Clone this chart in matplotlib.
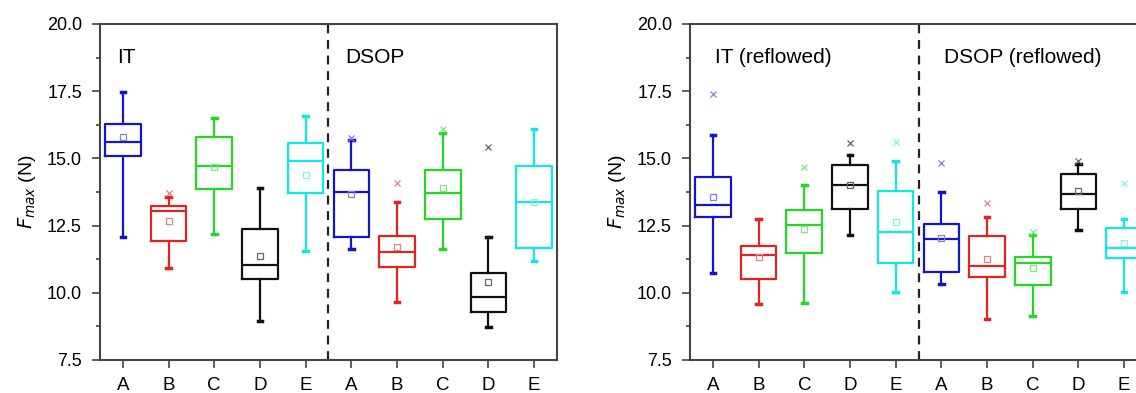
import matplotlib.pyplot as plt
from matplotlib.ticker import MultipleLocator

plt.rcParams['font.family'] = ['Liberation Sans', 'DejaVu Sans']

categories = ["A", "B", "C", "D", "E", "A", "B", "C", "D", "E"]
colors = ["#1515c8", "#e02424", "#22d822", "#111111", "#10e8e8"]
mean_colors = ["#8080e0", "#e88080", "#80e880", "#666666", "#80f0f0"]

# left panel: IT (first 5) then DSOP (last 5)
as_whislo = [12.09, 10.93, 12.18, 8.96, 11.57, 11.62, 9.65, 11.62, 8.74, 11.19]
as_q1 = [15.09, 11.92, 13.85, 10.50, 13.73, 12.09, 10.95, 12.76, 9.29, 11.66]
as_med = [15.62, 13.03, 14.73, 11.03, 14.91, 13.76, 11.52, 13.70, 9.86, 13.38]
as_q3 = [16.28, 13.24, 15.78, 12.36, 15.58, 14.57, 12.12, 14.57, 10.75, 14.73]
as_whishi = [17.48, 13.58, 16.49, 13.89, 16.58, 15.68, 13.39, 15.93, 12.09, 16.11]
as_mean = [15.78, 12.66, 14.68, 11.38, 14.38, 13.66, 11.71, 13.89, 10.41, 13.38]
as_fliers = [[], [13.70], [], [], [], [15.77], [14.10], [16.08], [15.42], []]

# right panel: reflowed
rf_whislo = [10.73, 9.57, 9.61, 12.15, 10.04, 10.32, 9.01, 9.15, 12.34, 10.02]
rf_q1 = [12.83, 10.50, 11.47, 13.11, 11.12, 10.76, 10.58, 10.29, 13.11, 11.31]
rf_med = [13.27, 11.41, 12.52, 14.01, 12.25, 11.99, 11.00, 11.10, 13.68, 11.66]
rf_q3 = [14.32, 11.75, 13.08, 14.74, 13.80, 12.56, 12.11, 11.33, 14.42, 12.40]
rf_whishi = [15.86, 12.75, 14.01, 15.12, 14.91, 13.76, 12.83, 12.15, 14.78, 12.75]
rf_mean = [13.55, 11.32, 12.36, 14.01, 12.62, 12.04, 11.26, 10.93, 13.79, 11.84]
rf_fliers = [[17.41], [], [14.69], [15.58], [15.62], [14.82], [13.35], [12.25], [14.91], [14.10]]


def draw_panel(ax, whislo, q1, med, q3, whishi, mean, fliers, labels, label_x):
    for i in range(len(categories)):
        c = colors[i % 5]
        mc = mean_colors[i % 5]
        stats = [dict(whislo=whislo[i], q1=q1[i], med=med[i], q3=q3[i],
                      whishi=whishi[i], mean=mean[i], fliers=fliers[i])]
        ax.bxp(stats, positions=[i + 1], widths=0.78, showmeans=True,
               showfliers=True, patch_artist=False,
               boxprops=dict(color=c, linewidth=1.6),
               medianprops=dict(color=c, linewidth=1.6),
               whiskerprops=dict(color=c, linewidth=1.6),
               capprops=dict(color=c, linewidth=2.5),
               capwidths=0.1,
               meanprops=dict(marker="s", markersize=4, markerfacecolor="none",
                              markeredgecolor=mc, markeredgewidth=0.9),
               flierprops=dict(marker="x", markersize=5, markeredgecolor=mc,
                               markeredgewidth=0.9))
    ax.axvline(5.5, color="#222222", linestyle=(0, (4, 3)), linewidth=1.6)
    ax.set_xlim(0.5, 10.5)
    ax.set_ylim(7.5, 20.0)
    ax.set_xticks(range(1, 11))
    ax.set_xticklabels(categories, fontsize=13.5)
    ax.yaxis.set_minor_locator(MultipleLocator(1.25))
    ax.set_yticks([7.5, 10.0, 12.5, 15.0, 17.5, 20.0])
    ax.set_yticklabels(["7.5", "10.0", "12.5", "15.0", "17.5", "20.0"], fontsize=13)
    ax.tick_params(axis="both", direction="out", length=6, width=1.2, color="#444444")
    ax.tick_params(axis="y", pad=7)
    ax.tick_params(axis="x", pad=6)
    ax.tick_params(axis="y", which="minor", direction="out", length=3, width=1.2, color="#444444")
    for s in ax.spines.values():
        s.set_color("#444444")
        s.set_linewidth(1.5)
    ax.set_ylabel("$F_{max}$ (N)", fontsize=14, labelpad=6)
    ax.text(label_x[0], 0.9, labels[0], transform=ax.transAxes, fontsize=15, va="center")
    ax.text(label_x[1], 0.9, labels[1], transform=ax.transAxes, fontsize=15, va="center")


fig = plt.figure(figsize=(11.36, 3.93), dpi=100)
ax1 = fig.add_axes([0.088, 0.084, 0.4023, 0.855])
ax2 = fig.add_axes([0.6074, 0.084, 0.4023, 0.855])

draw_panel(ax1, as_whislo, as_q1, as_med, as_q3, as_whishi, as_mean, as_fliers,
           ["IT", "DSOP"], [0.037, 0.536])
draw_panel(ax2, rf_whislo, rf_q1, rf_med, rf_q3, rf_whishi, rf_mean, rf_fliers,
           ["IT (reflowed)", "DSOP (reflowed)"], [0.055, 0.556])

fig.savefig("out.png", dpi=100)
